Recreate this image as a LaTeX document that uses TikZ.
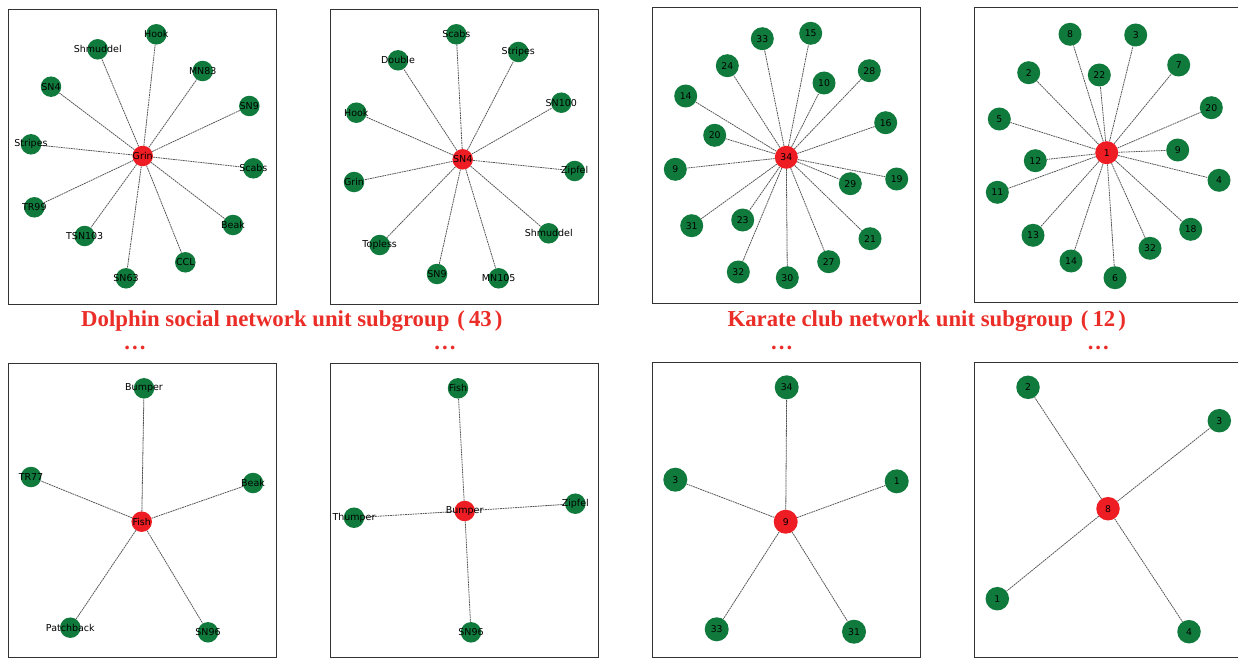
\documentclass[tikz,border=0pt]{standalone}
\usepackage{fontspec}
\usetikzlibrary{backgrounds}
\newfontfamily\lblfont{DejaVu Sans}
\newfontfamily\titlefont{Liberation Serif}
\definecolor{ngreen}{RGB}{16,122,60}
\definecolor{nred}{RGB}{238,29,35}
\definecolor{tred}{RGB}{235,45,40}
\definecolor{edgegray}{RGB}{85,85,85}
\tikzset{
  hub/.style={circle, fill=nred, inner sep=0pt},
  leaf/.style={circle, fill=ngreen, inner sep=0pt},
  edge/.style={draw=edgegray, line width=0.8pt, dash pattern=on 1.8pt off 0.7pt},
  frame/.style={draw=black!80, line width=1pt},
  dlab/.style={font=\lblfont\fontsize{9.5}{10}\selectfont, inner sep=0pt, text=black},
  klab/.style={font=\lblfont\fontsize{9.3}{10}\selectfont, inner sep=0pt, text=black},
  ttl/.style={font=\titlefont\bfseries\fontsize{22.8}{24}\selectfont, text=tred, inner sep=0pt},
}
\newcommand\mystar[6]{%
  \node[hub, minimum size=#2, label={[#3]center:#4}] (#1c) at (#5) {};
  \foreach \lab/\px/\py [count=\i] in {#6} {
    \node[leaf, minimum size=#2, label={[#3]center:\lab}] (#1n\i) at (\px,\py) {};
    \begin{pgfonlayer}{background}\draw[edge] (#1c) -- (#1n\i);\end{pgfonlayer}
  }%
}
\begin{document}
\begin{tikzpicture}[x=1pt,y=-1pt]
\useasboundingbox (0,0) rectangle (1238,658);
% frames
\draw[frame] (8.3,9.3) rectangle (276.7,304);
\draw[frame] (330.3,9.3) rectangle (598.7,304);
\draw[frame] (652.3,8) rectangle (920.7,303);
\draw[frame] (974,8) rectangle (1250,302.7);
\draw[frame] (8.3,363.3) rectangle (276.7,657);
\draw[frame] (330.3,363.3) rectangle (598.7,657);
\draw[frame] (652.3,362.3) rectangle (920,657);
\draw[frame] (974.7,362.3) rectangle (1250,657);
% panel 1
\mystar{pa}{20.5pt}{dlab}{Grin}{142.7,156}{Hook/156.3/34.3, Shmuddel/97.7/49.3, MN83/202.7/71, SN4/51/86.7, SN9/249.3/106, Stripes/31/144.3, Scabs/253.3/168.3, TR99/34.3/207.3, Beak/233/225, TSN103/84.7/236, CCL/185.3/262.3, SN63/126/278.3}
% panel 2
\mystar{pb}{20.5pt}{dlab}{SN4}{462.7,159.3}{Scabs/456.3/34.3, Double/398/60.3, Stripes/518.3/52, SN100/561.3/102.7, Hook/356.3/112.7, Zipfel/574.7/171, Grin/354/182, Shmuddel/548.7/233.3, Topless/379.7/245, SN9/437/274, MN105/498.7/278.3}
% panel 3
\mystar{pc}{23pt}{klab}{34}{786.3,157.3}{33/762.3/38.7, 15/810.7/33.3, 24/727.3/65.7, 10/824/83, 28/869.3/70.7, 14/685.7/96, 16/885.7/122.7, 20/714.7/135.3, 9/675.3/169.3, 19/896.7/179, 29/850.3/183.7, 31/691.7/225.7, 23/742.7/220, 21/870/238.7, 27/828.7/261.7, 32/738.3/272, 30/787.3/277.7}
% panel 4
\mystar{pd}{23pt}{klab}{1}{1106.7,152.7}{8/1070/34.3, 3/1135.7/35, 2/1028.7/72.7, 22/1099.3/75, 7/1178.7/65, 20/1211.3/107.7, 5/999.3/119, 9/1177.7/150, 12/1035.3/160.7, 4/1219/180.3, 11/997.3/192.3, 18/1190.7/229.3, 13/1033/235.3, 32/1150/248.3, 14/1071/261, 6/1115/277.7}
% panel 5
\mystar{pe}{20.5pt}{dlab}{Fish}{141.7,521.7}{Bumper/144/388.3, TR77/31/477, Beak/253/483, Patchback/70.3/627.7, SN96/208/632.3}
% panel 6
\mystar{pf}{20.5pt}{dlab}{Bumper}{464.7,511}{Fish/458/388.3, Zipfel/575.3/503.7, Thumper/354/517.7, SN96/471/632.3}
% panel 7
\mystar{pg}{24pt}{klab}{9}{785.7,521.7}{34/786.7/387.3, 3/675.3/479.7, 1/896.7/481.3, 33/716.7/629.3, 31/854/631.7}
% panel 8
\mystar{ph}{23.5pt}{klab}{8}{1108,508.7}{2/1028/387.3, 3/1219.3/420.7, 1/997.3/598.7, 4/1189/631.7}
% titles
\node[ttl, anchor=base west] (t1) at (81,326) {Dolphin social network unit subgroup\hspace{8pt}(\hspace{4pt}43\hspace{3pt})};
\node[ttl, anchor=base west] (t2) at (727.3,326) {Karate club network unit subgroup\hspace{8pt}(\hspace{4pt}12\hspace{3pt})};
\node[ttl, anchor=base] (d1) at (135,349) {.\hspace{2pt}.\hspace{2pt}.};
\node[ttl, anchor=base] (d2) at (445,349) {.\hspace{2pt}.\hspace{2pt}.};
\node[ttl, anchor=base] (d3) at (781.7,349) {.\hspace{2pt}.\hspace{2pt}.};
\node[ttl, anchor=base] (d4) at (1098.3,349) {.\hspace{2pt}.\hspace{2pt}.};
\end{tikzpicture}
\end{document}
